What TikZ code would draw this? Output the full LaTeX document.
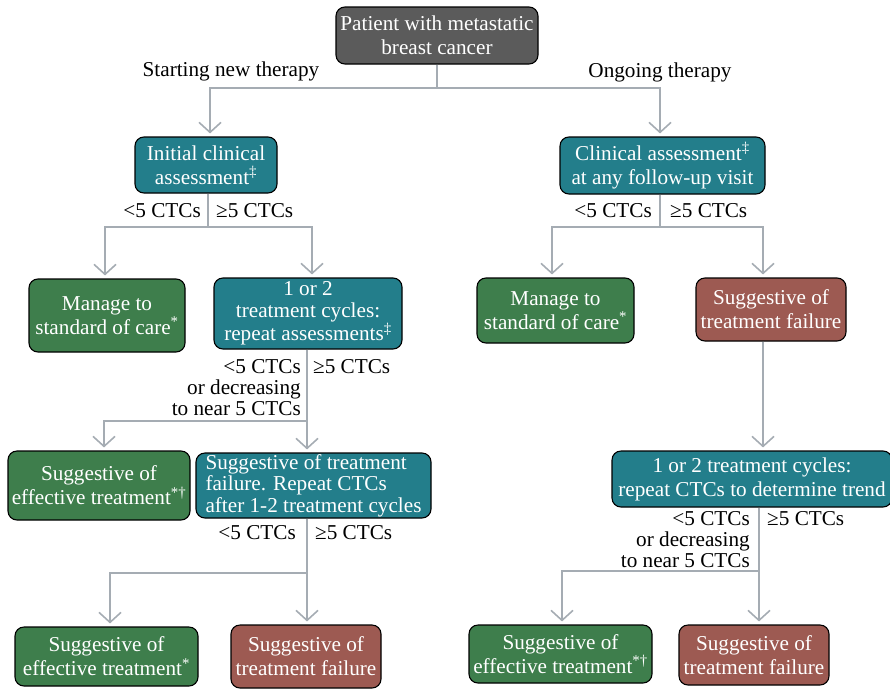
\documentclass[tikz,border=0pt]{standalone}
\usepackage{fontspec}
\setmainfont{Liberation Serif}
\usetikzlibrary{arrows.meta}
\definecolor{cgray}{RGB}{91,91,91}
\definecolor{cteal}{RGB}{35,126,139}
\definecolor{cgreen}{RGB}{62,126,76}
\definecolor{cred}{RGB}{157,90,82}
\definecolor{linec}{RGB}{165,172,179}
\begin{document}
\begin{tikzpicture}[x=1pt,y=-1pt,
  box/.style={draw=black, line width=1.1pt, rounded corners=9pt, text=white, align=center, inner sep=0pt, font=\fontsize{21.2}{24}\selectfont},
  conn/.style={draw=linec, line width=1.6pt},
  arr/.style={conn, -{Straight Barb[length=10pt,width=22pt,line width=1.6pt]}, shorten >=3pt},
  lab/.style={font=\fontsize{21.2}{21}\selectfont, inner sep=0pt}]
\useasboundingbox (0,0) rectangle (890,688);
% boxes
\node[box, fill=cgray, minimum width=202pt, minimum height=57pt] (top) at (437,35.5) {Patient with metastatic\\breast cancer};
\node[box, fill=cteal, minimum width=142pt, minimum height=56pt] (init) at (206,165) {Initial clinical\\assessment\textsuperscript{‡}};
\node[box, fill=cteal, minimum width=205pt, minimum height=57pt] (clin) at (662.5,165.5) {Clinical assessment\textsuperscript{‡}\\at any follow-up visit};
\node[box, fill=cgreen, minimum width=156pt, minimum height=73pt] (manL) at (107,315.5) {Manage to\\standard of care\textsuperscript{*}};
\node[box, fill=cteal, minimum width=188pt, minimum height=71pt, font=\fontsize{21.2}{21.5}\selectfont] (cyc) at (308,313.5) {1 or 2\\treatment cycles:\\repeat assessments\textsuperscript{‡}};
\node[box, fill=cgreen, minimum width=182pt, minimum height=69pt] (effL) at (99,485.5) {Suggestive of\\effective treatment\textsuperscript{*†}};
\node[box, fill=cteal, minimum width=235pt, minimum height=65pt, align=left, font=\fontsize{21.2}{21.5}\selectfont] (failRep) at (313.5,485.5) {Suggestive of treatment\\failure. Repeat CTCs\\after 1-2 treatment cycles};
\node[box, fill=cgreen, minimum width=183pt, minimum height=59pt] (effBL) at (106.5,656.5) {Suggestive of\\effective treatment\textsuperscript{*}};
\node[box, fill=cred, minimum width=150pt, minimum height=63pt] (failBL) at (306,656.5) {Suggestive of\\treatment failure};
\node[box, fill=cgreen, minimum width=157pt, minimum height=65pt] (manR) at (555.5,310.5) {Manage to\\standard of care\textsuperscript{*}};
\node[box, fill=cred, minimum width=150pt, minimum height=63pt] (failR) at (771,309.5) {Suggestive of\\treatment failure};
\node[box, fill=cteal, minimum width=280pt, minimum height=56pt] (cycR) at (752,479) {1 or 2 treatment cycles:\\repeat CTCs to determine trend};
\node[box, fill=cgreen, minimum width=183pt, minimum height=58pt] (effBR) at (560.5,654) {Suggestive of\\effective treatment\textsuperscript{*†}};
\node[box, fill=cred, minimum width=150pt, minimum height=60pt] (failBR) at (754,655) {Suggestive of\\treatment failure};
% junctions
\coordinate (j0) at (437,88);
\coordinate (j1) at (208,227);
\coordinate (j2) at (307,421);
\coordinate (j3) at (307,573);
\coordinate (j4) at (660,227);
\coordinate (j5) at (759,571);
% connectors
\draw[conn] (top.south) -- (j0);
\draw[arr] (j0) -| ([xshift=4pt]init.north);
\draw[arr] (j0) -| ([xshift=-2.5pt]clin.north);
\draw[conn] ([xshift=2pt]init.south) -- (j1);
\draw[arr] (j1) -| ([xshift=-2pt]manL.north);
\draw[arr] (j1) -| ([xshift=4pt]cyc.north);
\draw[conn] ([xshift=-1pt]cyc.south) -- (j2);
\draw[arr] (j2) -| ([xshift=5pt]effL.north);
\draw[arr] (j2) -- ([xshift=-6.5pt]failRep.north);
\draw[conn] ([xshift=-6.5pt]failRep.south) -- (j3);
\draw[arr] (j3) -| ([xshift=3.5pt]effBL.north);
\draw[arr] (j3) -- ([xshift=1pt]failBL.north);
\draw[conn] ([xshift=-2.5pt]clin.south) -- (j4);
\draw[arr] (j4) -| ([xshift=-3.5pt]manR.north);
\draw[arr] (j4) -| ([xshift=-8pt]failR.north);
\draw[arr] ([xshift=-8pt]failR.south) -- ([xshift=11pt]cycR.north);
\draw[conn] ([xshift=7pt]cycR.south) -- (j5);
\draw[arr] (j5) -| ([xshift=1.5pt]effBR.north);
\draw[arr] (j5) -- ([xshift=5pt]failBR.north);
% labels
\node[lab] (l1) at (231,71) {Starting new therapy};
\node[lab] (l2) at (660,72) {Ongoing therapy};
\node[lab, anchor=east] (l3) at (201,211) {<5 CTCs};
\node[lab, anchor=west] (l4) at (216,211) {≥5 CTCs};
\node[lab, anchor=east] (l5) at (652,211) {<5 CTCs};
\node[lab, anchor=west] (l6) at (670,211) {≥5 CTCs};
\node[lab, anchor=east, align=right] (l7) at (301,388) {<5 CTCs\\or decreasing\\to near 5 CTCs};
\node[lab, anchor=west] (l8) at (313,367) {≥5 CTCs};
\node[lab, anchor=east] (l9) at (296,533) {<5 CTCs};
\node[lab, anchor=west] (l10) at (315,533) {≥5 CTCs};
\node[lab, anchor=east, align=right] (l11) at (750,540) {<5 CTCs\\or decreasing\\to near 5 CTCs};
\node[lab, anchor=west] (l12) at (767,519) {≥5 CTCs};
\end{tikzpicture}
\end{document}
